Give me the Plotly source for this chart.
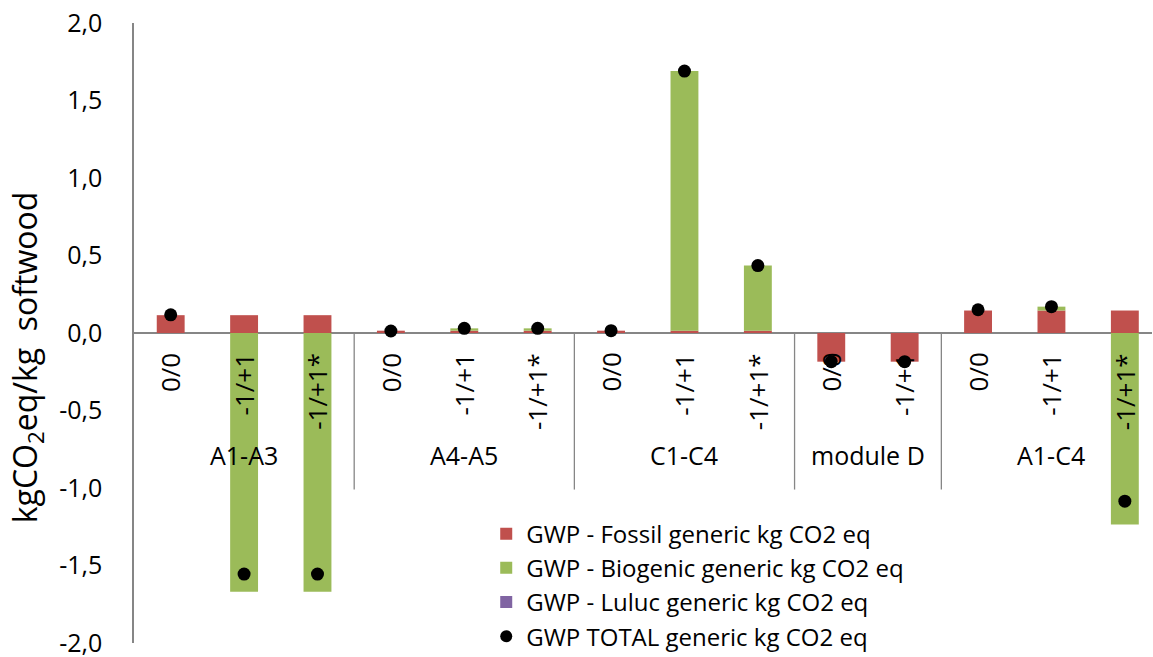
import plotly.graph_objects as go

# ---------------- data ----------------
groups = ["A1-A3", "A1-A3", "A1-A3",
          "A4-A5", "A4-A5", "A4-A5",
          "C1-C4", "C1-C4", "C1-C4",
          "module D", "module D",
          "A1-C4", "A1-C4", "A1-C4"]
scenarios = ["0/0", "-1/+1", "-1/+1*",
             "0/0", "-1/+1", "-1/+1*",
             "0/0", "-1/+1", "-1/+1*",
             "0/0", "-1/+1",
             "0/0", "-1/+1", "-1/+1*"]
fossil = [0.115, 0.115, 0.115,
          0.015, 0.015, 0.015,
          0.015, 0.015, 0.015,
          -0.185, -0.185,
          0.145, 0.145, 0.145]
biogenic = [0.0, -1.67, -1.67,
            0.0, 0.015, 0.015,
            0.0, 1.675, 0.42,
            0.0, 0.0,
            0.0, 0.025, -1.235]
luluc = [0.0] * 14
total = [0.117, -1.555, -1.555,
         0.013, 0.03, 0.03,
         0.015, 1.69, 0.435,
         -0.185, -0.185,
         0.15, 0.17, -1.085]
y_ticks = [2.0, 1.5, 1.0, 0.5, 0.0, -0.5, -1.0, -1.5, -2.0]
y_tick_text = ["2,0", "1,5", "1,0", "0,5", "0,0", "-0,5", "-1,0", "-1,5", "-2,0"]

FONT = "Open Sans"
RED = "#C0504D"
GREEN = "#9BBB59"
PURPLE = "#8064A2"
AXIS = "#868686"

x = list(range(len(scenarios)))

fig = go.Figure()
fig.add_trace(go.Bar(x=x, y=fossil, name="GWP - Fossil generic kg CO2 eq",
                     marker=dict(color=RED, line=dict(width=0)), width=0.38))
fig.add_trace(go.Bar(x=x, y=biogenic, name="GWP - Biogenic generic kg CO2 eq",
                     marker=dict(color=GREEN, line=dict(width=0)), width=0.38))
fig.add_trace(go.Bar(x=x, y=luluc, name="GWP - Luluc generic kg CO2 eq",
                     marker=dict(color=PURPLE, line=dict(width=0)), width=0.38))
fig.add_trace(go.Scatter(x=x, y=total, mode="markers", name="GWP TOTAL generic kg CO2 eq",
                         marker=dict(color="black", size=13)))

annotations = []
# scenario labels (rotated)
for xi, s in zip(x, scenarios):
    annotations.append(dict(x=xi, y=-0.115, xref="x", yref="y", text=s, textangle=-90,
                            showarrow=False, xanchor="center", yanchor="top",
                            font=dict(family=FONT, size=26, color="black")))
# group labels and dividers
shapes = []
start = 0
for i in range(1, len(groups) + 1):
    if i == len(groups) or groups[i] != groups[i - 1]:
        center = (start + i - 1) / 2
        annotations.append(dict(x=center, y=-0.79, xref="x", yref="y", text=groups[i - 1],
                                showarrow=False, xanchor="center", yanchor="middle",
                                font=dict(family=FONT, size=25, color="black")))
        if i < len(groups):
            shapes.append(dict(type="line", xref="x", yref="y", x0=i - 0.5, x1=i - 0.5,
                               y0=0, y1=-1.01, line=dict(color=AXIS, width=1.3)))
        start = i

# y-axis title
annotations.append(dict(x=-0.105, y=0.461, xref="paper", yref="paper",
                        text="kgCO<sub>2</sub>eq/kg  softwood", textangle=-90,
                        showarrow=False, xanchor="center", yanchor="middle",
                        font=dict(family=FONT, size=32, color="black")))

fig.update_layout(
    width=1153, height=657,
    margin=dict(l=134, r=1, t=23, b=14, autoexpand=False),
    paper_bgcolor="white", plot_bgcolor="white",
    barmode="relative",
    font=dict(family=FONT, color="black"),
    showlegend=True,
    legend=dict(x=0.346, y=0.212, xanchor="left", yanchor="top", traceorder="normal",
                bgcolor="rgba(0,0,0,0)", font=dict(family=FONT, size=24, color="black"),
                itemsizing="constant"),
    annotations=annotations,
    shapes=shapes,
)
fig.update_xaxes(range=[-0.5, 13.37], showticklabels=False, showgrid=False,
                 zeroline=False, showline=False, automargin=False)
fig.update_yaxes(range=[-2.0, 2.0], tickvals=y_ticks, ticktext=y_tick_text,
                 showgrid=False, zeroline=True, zerolinecolor=AXIS, zerolinewidth=1.5,
                 showline=True, linecolor=AXIS, linewidth=1.5, ticks="",
                 ticklabelstandoff=25, ticklabeloverflow="allow", automargin=False,
                 tickfont=dict(family=FONT, size=25, color="black"))

# remove the default 8px page margin so the figure fills the window exactly
fig.write_html("out.html", config={"displayModeBar": False},
               post_script="document.body.style.margin='0';")
